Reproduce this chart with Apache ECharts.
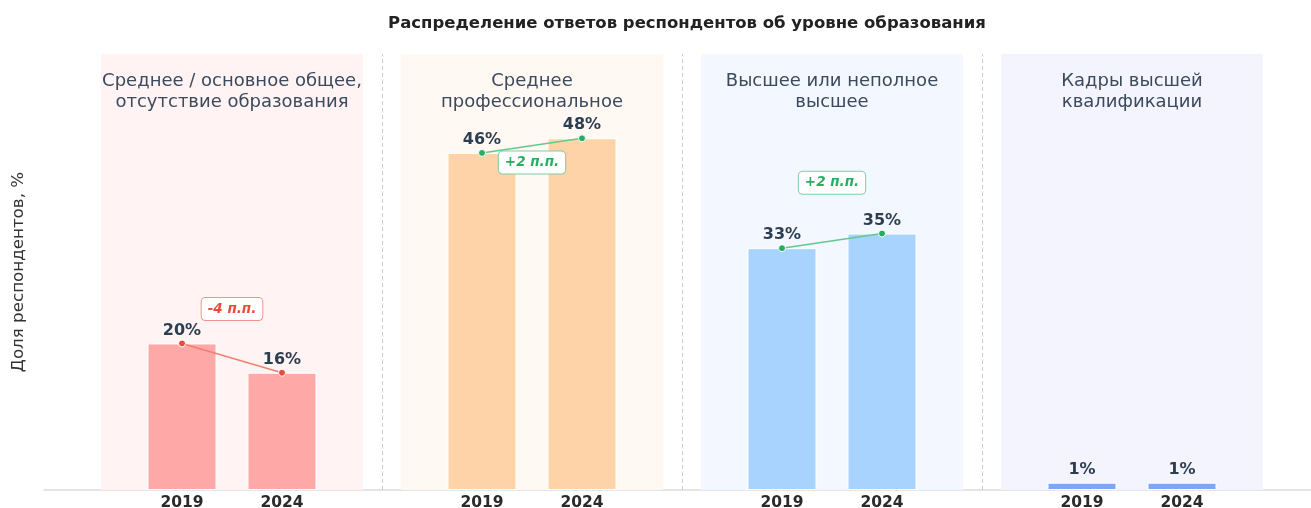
<!DOCTYPE html>
<html>
<head>
<meta charset="utf-8">
<script src="https://cdn.jsdelivr.net/npm/echarts@6/dist/echarts.min.js"></script>
<style>
html,body{margin:0;padding:0;background:#fff;}
#chart{width:1311px;height:508px;}
</style>
</head>
<body>
<div id="chart"></div>
<script>
// ---- data ----
const groups = [
  'Среднее / основное общее,\nотсутствие образования',
  'Среднее\nпрофессиональное',
  'Высшее или неполное\nвысшее',
  'Кадры высшей\nквалификации'
];
const years = ['2019', '2024'];
const values2019 = [20, 46, 33, 1];
const values2024 = [16, 48, 35, 1];

// ---- styles ----
const barColors = ['#ffa8a8', '#ffd3a8', '#a8d3ff', '#7ea6f8'];
const bandColors = ['#fff3f3', '#fff8f3', '#f3f7ff', '#f4f4ff'];
const annotationOffsets = [-49, 17, -58, 0];
const FONT = 'DejaVu Sans';

const slot = g => 3 * g; // x position of first year in group g

const barData = [];
groups.forEach((g, i) => {
  [values2019[i], values2024[i]].forEach((v, j) => {
    barData.push({ value: [slot(i) + j, v], itemStyle: { color: barColors[i] } });
  });
});

const series = [{
  type: 'bar',
  barWidth: 69,
  data: barData,
  itemStyle: { borderColor: '#ffffff', borderWidth: 1 },
  label: {
    show: true, position: 'top', distance: 5,
    formatter: p => p.value[1] + '%',
    fontFamily: FONT, fontWeight: 'bold', fontSize: 16, color: '#2c3e50'
  },
  markArea: {
    silent: true,
    data: groups.map((name, i) => [
      { xAxis: slot(i) - 0.81, itemStyle: { color: bandColors[i] },
        label: { show: true, position: 'insideTop', distance: 16.5, formatter: name,
          fontFamily: FONT, fontSize: 18, lineHeight: 21, color: '#3b4a5c', align: 'center' } },
      { xAxis: slot(i) + 1.81 }
    ])
  },
  markLine: {
    silent: true, symbol: 'none', label: { show: false },
    lineStyle: { color: '#cccccc', type: [4, 3], width: 1 },
    data: groups.slice(0, -1).map((_, i) => ({ xAxis: slot(i) + 2 }))
  },
  z: 2
}];

groups.forEach((g, i) => {
  const diff = values2024[i] - values2019[i];
  if (diff === 0) return;
  const col = diff < 0 ? '#e74c3c' : '#27ae60';
  const border = diff < 0 ? '#f1948a' : '#7dcea0';
  const lineCol = diff < 0 ? '#f08070' : '#62c98e';
  series.push({
    type: 'line',
    data: [[slot(i), values2019[i]], [slot(i) + 1, values2024[i]]],
    symbol: 'circle', symbolSize: 7,
    itemStyle: { color: col, borderColor: '#ffffff', borderWidth: 1 },
    lineStyle: { color: lineCol, width: 1.5 },
    label: { show: false },
    z: 5,
    markPoint: {
      silent: true,
      symbol: 'circle', symbolSize: 0,
      data: [{
        coord: [slot(i) + 0.5, (values2019[i] + values2024[i]) / 2],
        label: {
          show: true, position: 'inside',
          offset: [0, annotationOffsets[i]],
          formatter: (diff > 0 ? '+' : '') + diff + ' п.п.',
          fontFamily: FONT, fontSize: 13.5, fontWeight: 'bold', fontStyle: 'italic',
          color: col, backgroundColor: '#ffffff',
          borderColor: border, borderWidth: 1, borderRadius: 4,
          padding: [4, 6]
        }
      }]
    }
  });
});

const chart = echarts.init(document.getElementById('chart'), null, { renderer: 'canvas' });
chart.setOption({
  animation: false,
  title: {
    text: 'Распределение ответов респондентов об уровне образования',
    left: 682, top: 10, textAlign: 'center',
    textStyle: { fontFamily: FONT, fontWeight: 'bold', fontSize: 16.5, color: '#222222' }
  },
  grid: { left: 44, right: 0, top: 54, bottom: 18, outerBoundsMode: 'none', containLabel: false },
  xAxis: {
    type: 'value', min: -1.38, max: 11.29,
    splitLine: { show: false },
    axisTick: { show: false },
    axisLine: { show: true, lineStyle: { color: '#dddddd', width: 1.5 } },
    axisLabel: {
      show: true,
      customValues: groups.flatMap((_, i) => [slot(i), slot(i) + 1]),
      formatter: v => years[Math.round(v) % 3],
      fontFamily: FONT, fontWeight: 'bold', fontSize: 15.5, color: '#2a2a2a', margin: 5
    }
  },
  yAxis: {
    type: 'value', min: 0, max: 59.5,
    name: 'Доля респондентов, %', nameLocation: 'middle', nameGap: 17,
    nameTextStyle: { fontFamily: FONT, fontSize: 16.7, color: '#333333' },
    axisLine: { show: false }, axisTick: { show: false },
    axisLabel: { show: false }, splitLine: { show: false }
  },
  series: series
});
</script>
</body>
</html>
